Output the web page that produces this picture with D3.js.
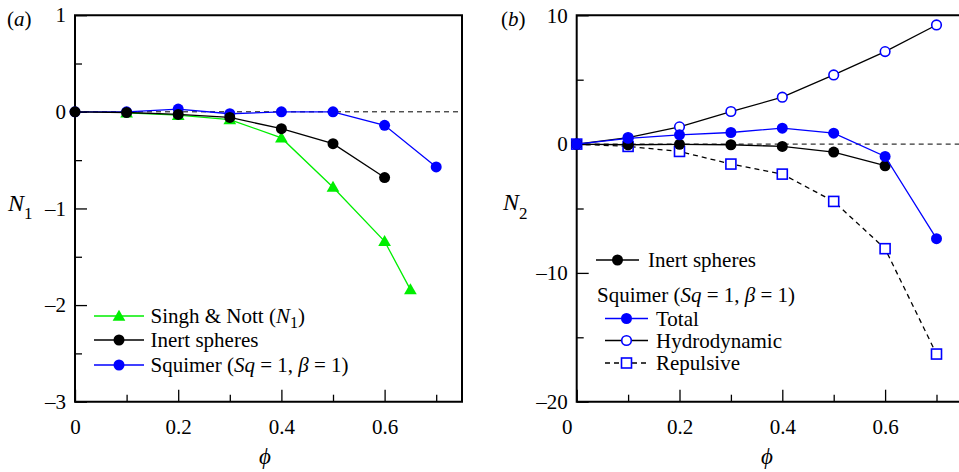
<!DOCTYPE html>
<html><head><meta charset="utf-8">
<script src="https://cdn.jsdelivr.net/npm/d3@7"></script>
<style>
body{margin:0;background:#fff}
svg{display:block}
svg text, svg tspan{font-family:"Liberation Serif","Times New Roman",serif !important}
</style>
</head><body>
<svg id="c" width="959" height="472" font-family="Liberation Serif"></svg>
<script>
// ---------- data ----------
const phiSingh   = [0.1, 0.2, 0.3, 0.4, 0.5, 0.6, 0.65];
const n1Singh    = [-0.01, -0.035, -0.08, -0.27, -0.78, -1.34, -1.84];
const phiInert   = [0, 0.1, 0.2, 0.3, 0.4, 0.5, 0.6];
const n1Inert    = [0, -0.007, -0.027, -0.058, -0.175, -0.33, -0.68];
const phiSquimer = [0, 0.1, 0.2, 0.3, 0.4, 0.5, 0.6, 0.7];
const n1Squimer  = [0, 0, 0.028, -0.02, 0, 0, -0.14, -0.57];
const n2Inert    = [0, -0.05, -0.02, -0.05, -0.18, -0.62, -1.68];
const n2Total    = [0, 0.45, 0.72, 0.9, 1.24, 0.85, -0.96, -7.34];
const n2Hydro    = [0, 0.51, 1.34, 2.53, 3.64, 5.37, 7.18, 9.25];
const n2Repul    = [0, -0.18, -0.57, -1.55, -2.33, -4.45, -8.12, -16.3];
const xMajor  = [0, 0.2, 0.4, 0.6];
const xMinor  = [0.1, 0.3, 0.5, 0.7];
const yMajorA = [-3, -2, -1, 0, 1];
const yMinorA = [-2.5, -1.5, -0.5, 0.5];
const yMajorB = [-20, -10, 0, 10];
const yMinorB = [-15, -5, 5];

const FONT = "\"Liberation Serif\", \"Times New Roman\", serif";
const svg = d3.select("#c");
const BLUE = "#0000ff", GREEN = "#00ee00";
const fmt = d => d < 0 ? "\u2013" + Math.abs(d) : String(d);

function zip(xs, ys){ return xs.map((x,i)=>[x, ys[i]]); }
function serif(sel, size){
  sel.attr("font-family","Liberation Serif").style("font-family", FONT, "important");
  if(size) sel.attr("font-size", size).style("font-size", size+"px", "important");
  return sel;
}

function panel(x, y, opts){
  const g = svg.append("g");
  const [x0,x1] = x.range(), [yb,yt] = y.range();
  g.append("line").attr("x1", x0).attr("x2", x1).attr("y1", y(0)).attr("y2", y(0))
    .attr("stroke","#000").attr("stroke-width",1).attr("stroke-dasharray","5,4");
  const ax = (a)=>a.attr("font-family","Liberation Serif").attr("font-size",21)
     .call(s=>s.select(".domain").remove())
     .call(s=>s.selectAll("line").attr("stroke","#000").attr("stroke-width",1.3))
     .call(s=>serif(s.selectAll("text"), 21).attr("fill","#000"));
  g.append("g").attr("transform",`translate(0,${yb})`)
    .call(d3.axisBottom(x).tickValues(xMajor).tickFormat(fmt).tickSizeInner(-12).tickSizeOuter(0).tickPadding(17.5))
    .call(ax).call(s=>s.selectAll("text").filter(d=>d===0).attr("dx", opts.zeroDx||0));
  g.append("g").attr("transform",`translate(0,${yb})`)
    .call(d3.axisBottom(x).tickValues(xMinor).tickFormat("").tickSizeInner(-7).tickSizeOuter(0)).call(ax);
  g.append("g").attr("transform",`translate(${x0},0)`)
    .call(d3.axisLeft(y).tickValues(opts.yMajor).tickFormat(fmt).tickSizeInner(-12).tickSizeOuter(0).tickPadding(9))
    .call(ax);
  g.append("g").attr("transform",`translate(${x0},0)`)
    .call(d3.axisLeft(y).tickValues(opts.yMinor).tickFormat("").tickSizeInner(-7).tickSizeOuter(0)).call(ax);
  g.append("path").attr("d", opts.frame).attr("fill","none").attr("stroke","#000").attr("stroke-width",2);
  return g;
}

function series(g, x, y, pts, o){
  g.append("path").datum(pts)
    .attr("d", d3.line().x(d=>x(d[0])).y(d=>y(d[1])))
    .attr("fill","none").attr("stroke",o.line).attr("stroke-width",1.3)
    .attr("stroke-dasharray", o.dash || null);
  pts.forEach(p=>marker(g, x(p[0]), y(p[1]), o));
}
function marker(g, cx, cy, o){
  if(o.shape==="circle"){
    g.append("circle").attr("cx",cx).attr("cy",cy).attr("r", o.open?4.8:5.5)
      .attr("fill", o.open?"#fff":o.color).attr("stroke", o.color).attr("stroke-width", o.open?1.6:0);
  } else if(o.shape==="square"){
    g.append("rect").attr("x",cx-5).attr("y",cy-5).attr("width",10).attr("height",10)
      .attr("fill", o.open?"#fff":o.color).attr("stroke",o.color).attr("stroke-width",1.6);
  } else if(o.shape==="tri"){
    g.append("path").attr("d", d3.symbol(d3.symbolTriangle, 70)()).attr("transform",`translate(${cx},${cy+1})`)
      .attr("fill", o.color);
  }
}

function legRow(g, x1, x2, y, o){
  g.append("line").attr("x1",x1).attr("x2",x2).attr("y1",y).attr("y2",y)
    .attr("stroke",o.line).attr("stroke-width",1.3).attr("stroke-dasharray",o.dash||null);
  marker(g, (x1+x2)/2, y, o);
}
function rich(g, x, y, parts, size, anchor){
  const t = serif(g.append("text").attr("x",x).attr("y",y), size)
    .attr("fill","#000").attr("text-anchor",anchor||"start");
  parts.forEach(p=>{
    const s = serif(t.append("tspan").text(p.t), p.size || size);
    if(p.i) s.attr("font-style","italic").style("font-style","italic","important");
    if(p.dy) s.attr("dy",p.dy);
  });
  return t;
}
const squimerParts = [{t:"Squimer ("},{t:"Sq",i:true},{t:" = 1, "},{t:"\u03b2",i:true},{t:" = 1)"}];

// ---------- panel (a) ----------
const xA = d3.scaleLinear().domain([0,0.75]).range([75,462]);
const yA = d3.scaleLinear().domain([-3,1]).range([401.7,15.2]);
const gA = panel(xA, yA, {yMajor:yMajorA, yMinor:yMinorA, frame:`M75,15.2H462V401.7H75Z`});
const sSingh = {line:GREEN, color:GREEN, shape:"tri"};
const sInert = {line:"#000", color:"#000", shape:"circle"};
const sSq = {line:BLUE, color:BLUE, shape:"circle"};
series(gA, xA, yA, zip(phiSingh, n1Singh), sSingh);
series(gA, xA, yA, zip(phiSquimer, n1Squimer), sSq);
series(gA, xA, yA, zip(phiInert, n1Inert), sInert);

legRow(gA, 94, 144, 316, sSingh);
rich(gA, 150.5, 323, [{t:"Singh & Nott ("},{t:"N",i:true},{t:"1",size:16,dy:5},{t:")",dy:-5}], 21);
legRow(gA, 94, 144, 340, sInert);
rich(gA, 150.5, 347, [{t:"Inert spheres"}], 21);
legRow(gA, 94, 144, 365, sSq);
rich(gA, 150.5, 372, squimerParts, 21);

// ---------- panel (b) ----------
const xB = d3.scaleLinear().domain([0,0.75]).range([576.7,962.2]);
const yB = d3.scaleLinear().domain([-20,10]).range([401.7,15.3]);
const gB = panel(xB, yB, {yMajor:yMajorB, yMinor:yMinorB, zeroDx:-10, frame:`M962,15.3H576.7V401.7H962`});
const sRep = {line:"#000", color:BLUE, shape:"square", open:true, dash:"5,4"};
const sHyd = {line:"#000", color:BLUE, shape:"circle", open:true};
const sTot = {line:BLUE, color:BLUE, shape:"circle"};
series(gB, xB, yB, zip(phiSquimer, n2Repul), sRep);
series(gB, xB, yB, zip(phiSquimer, n2Hydro), sHyd);
series(gB, xB, yB, zip(phiInert, n2Inert), sInert);
series(gB, xB, yB, zip(phiSquimer, n2Total), sTot);

legRow(gB, 596, 639, 260, sInert);
rich(gB, 648, 267, [{t:"Inert spheres"}], 21);
rich(gB, 597, 302, squimerParts, 21);
legRow(gB, 605, 648, 318.5, sTot);
rich(gB, 656, 325.5, [{t:"Total"}], 21);
legRow(gB, 605, 648, 340.5, sHyd);
rich(gB, 656, 347.5, [{t:"Hydrodynamic"}], 21);
legRow(gB, 605, 648, 363, sRep);
rich(gB, 656, 370, [{t:"Repulsive"}], 21);

// ---------- labels ----------
rich(svg, 7, 26, [{t:"("},{t:"a",i:true},{t:")"}], 21);
rich(svg, 501, 26, [{t:"("},{t:"b",i:true},{t:")"}], 21);
rich(svg, 8, 211, [{t:"N",i:true},{t:"1",size:17,dy:8}], 24);
rich(svg, 503, 210, [{t:"N",i:true},{t:"2",size:17,dy:9}], 24);
rich(svg, 265, 464, [{t:"\u03d5",i:true}], 23, "middle");
rich(svg, 767, 464, [{t:"\u03d5",i:true}], 23, "middle");
</script>
</body></html>
